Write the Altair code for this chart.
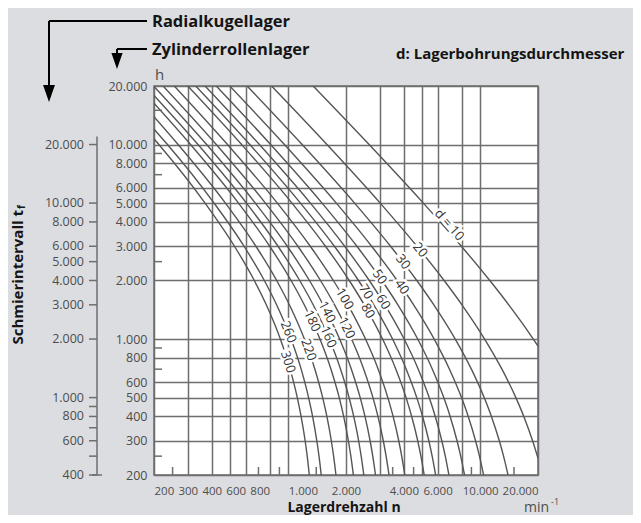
import altair as alt
import pandas as pd

# ---------------- data ----------------
# bearing bore diameter d (mm) of every curve
bore_d = [10, 20, 30, 40, 50, 60, 70, 80, 100, 120, 140, 160, 180, 220, 260, 300]

# speed n (min^-1) and lubrication interval t_f (h, Zylinderrollenlager scale) along each curve
n_d10 = [1349, 2639, 5055, 7977, 11220, 14082, 16627, 20000]
t_d10 = [20000, 10000, 5000, 3000, 2000, 1500, 1200, 920]
n_d20 = [819, 1592, 3013, 4686, 6488, 8033, 10544, 12977, 15336, 16870, 18744, 20000]
t_d20 = [20000, 10000, 5000, 3000, 2000, 1500, 1000, 700, 500, 400, 300, 244]
n_d30 = [611, 1182, 2217, 3413, 4675, 5734, 7415, 8997, 10489, 11438, 12575, 13232, 13962]
t_d30 = [20000, 10000, 5000, 3000, 2000, 1500, 1000, 700, 500, 400, 300, 250, 200]
n_d40 = [496, 956, 1781, 2720, 3695, 4502, 5760, 6919, 7992, 8664, 9459, 9913, 10414]
t_d40 = [20000, 10000, 5000, 3000, 2000, 1500, 1000, 700, 500, 400, 300, 250, 200]
n_d50 = [422, 810, 1501, 2279, 3075, 3726, 4726, 5634, 6461, 6973, 7573, 7914, 8286]
t_d50 = [20000, 10000, 5000, 3000, 2000, 1500, 1000, 700, 500, 400, 300, 250, 200]
n_d60 = [369, 708, 1305, 1969, 2643, 3188, 4016, 4757, 5425, 5834, 6310, 6579, 6871]
t_d60 = [20000, 10000, 5000, 3000, 2000, 1500, 1000, 700, 500, 400, 300, 250, 200]
n_d70 = [330, 631, 1158, 1740, 2323, 2791, 3495, 4118, 4673, 5011, 5401, 5620, 5858]
t_d70 = [20000, 10000, 5000, 3000, 2000, 1500, 1000, 700, 500, 400, 300, 250, 200]
n_d80 = [300, 572, 1046, 1564, 2079, 2489, 3101, 3637, 4111, 4397, 4727, 4911, 5109]
t_d80 = [20000, 10000, 5000, 3000, 2000, 1500, 1000, 700, 500, 400, 300, 250, 200]
n_d100 = [255, 483, 878, 1303, 1719, 2046, 2527, 2942, 3303, 3519, 3765, 3901, 4048]
t_d100 = [20000, 10000, 5000, 3000, 2000, 1500, 1000, 700, 500, 400, 300, 250, 200]
n_d120 = [223, 422, 761, 1123, 1473, 1744, 2138, 2474, 2763, 2934, 3128, 3235, 3350]
t_d120 = [20000, 10000, 5000, 3000, 2000, 1500, 1000, 700, 500, 400, 300, 250, 200]
n_d140 = [200, 376, 674, 989, 1290, 1521, 1853, 2133, 2371, 2512, 2670, 2757, 2849]
t_d140 = [19900, 10000, 5000, 3000, 2000, 1500, 1000, 700, 500, 400, 300, 250, 200]
n_d160 = [200, 339, 606, 885, 1148, 1349, 1636, 1874, 2076, 2194, 2327, 2399, 2476]
t_d160 = [17900, 10000, 5000, 3000, 2000, 1500, 1000, 700, 500, 400, 300, 250, 200]
n_d180 = [200, 310, 551, 801, 1035, 1212, 1463, 1670, 1844, 1945, 2058, 2120, 2185]
t_d180 = [16300, 10000, 5000, 3000, 2000, 1500, 1000, 700, 500, 400, 300, 250, 200]
n_d220 = [200, 267, 471, 679, 871, 1014, 1214, 1377, 1512, 1590, 1677, 1724, 1773]
t_d220 = [13900, 10000, 5000, 3000, 2000, 1500, 1000, 700, 500, 400, 300, 250, 200]
n_d260 = [200, 235, 411, 589, 751, 870, 1035, 1168, 1277, 1340, 1409, 1447, 1486]
t_d260 = [12000, 10000, 5000, 3000, 2000, 1500, 1000, 700, 500, 400, 300, 250, 200]
n_d300 = [200, 212, 369, 525, 666, 769, 910, 1023, 1115, 1167, 1225, 1256, 1288]
t_d300 = [10700, 10000, 5000, 3000, 2000, 1500, 1000, 700, 500, 400, 300, 250, 200]

# curve labels
label_text = ["d = 10", "20", "30", "40", "50", "60", "70", "80", "100", "120",
              "140", "160", "180", "220", "260", "300"]
label_n = [6900, 4862, 3958, 3902, 2987, 3123, 2539, 2598, 1967, 2011,
           1591, 1618, 1332, 1275, 1002, 997]
label_t = [3858, 2870, 2490, 1852, 2084, 1550, 1746, 1394, 1606, 1140,
           1377, 1025, 1238, 879, 1087, 762]
label_angle = [49, 51, 52, 55, 55, 58, 58, 60, 60, 64, 63, 67, 65, 70, 68, 73]

# axes
x_grid = [200, 300, 400, 500, 600, 800, 1000, 2000, 3000, 4000, 5000, 6000, 8000, 10000, 20000]
x_labeled = [200, 300, 400, 600, 800, 1000, 2000, 4000, 6000, 10000, 20000]
x_minor = [250, 700, 900, 1400, 3500, 4500, 9000, 15000]
y_grid = [200, 300, 400, 500, 600, 800, 1000, 2000, 3000, 4000, 5000, 6000, 8000, 10000, 20000]
y_minor = [250, 700, 900, 2500, 7000, 9000, 15000]
# outer axis: Radialkugellager (twice the Zylinderrollenlager value)
outer_labeled = [400, 600, 800, 1000, 2000, 3000, 4000, 5000, 6000, 8000, 10000, 20000]
outer_minor = [500, 700, 900]
outer_span = [400, 22000]

# ---------------- build tables ----------------
curve_n = [n_d10, n_d20, n_d30, n_d40, n_d50, n_d60, n_d70, n_d80, n_d100, n_d120,
           n_d140, n_d160, n_d180, n_d220, n_d260, n_d300]
curve_t = [t_d10, t_d20, t_d30, t_d40, t_d50, t_d60, t_d70, t_d80, t_d100, t_d120,
           t_d140, t_d160, t_d180, t_d220, t_d260, t_d300]
rows = []
for d, ns, ts in zip(bore_d, curve_n, curve_t):
    for i, (n, t) in enumerate(zip(ns, ts)):
        rows.append({"d": d, "n": n, "t": t, "i": i})
df_curves = pd.DataFrame(rows)
df_labels = pd.DataFrame({"txt": label_text, "n": label_n, "t": label_t, "ang": label_angle})


def de(v):
    return f"{v:,}".replace(",", ".")


df_outer = pd.DataFrame({"pos": [v / 2 for v in outer_labeled], "txt": [de(v) for v in outer_labeled]})
df_outer_minor = pd.DataFrame({"pos": [v / 2 for v in outer_minor]})
df_outer_span = pd.DataFrame({"pos": [outer_span[0] / 2], "pos2": [outer_span[1] / 2]})
df_outer_bottom = pd.DataFrame({"pos": [outer_span[0] / 2]})
df_xminor = pd.DataFrame({"n": x_minor})
df_yminor = pd.DataFrame({"t": y_minor})
one = pd.DataFrame({"k": [0]})

FONT = "Open Sans"
GRID = "#6e6e6e"
TXT = "#4d4d4d"
DARK = "#141414"
W, H = 384, 389

xs = alt.Scale(type="log", domain=[200, 20000], nice=False)
ys = alt.Scale(type="log", domain=[200, 20000], nice=False)

label_expr = ("indexof([" + ",".join(str(v) for v in x_labeled) + "], datum.value) >= 0 ? "
              "replace(format(datum.value, ','), ',', '.') : ''")

x_axis = alt.Axis(values=x_grid, grid=True, gridColor=GRID, gridWidth=1.5, domain=False,
                  ticks=False, labelExpr=label_expr, labelFont=FONT, labelFontSize=11.5,
                  labelColor=TXT, labelPadding=10, labelFlush=False, labelOverlap=False,
                  labelAlign={"condition": [
                      {"test": "datum.value == 200 || datum.value == 1000", "value": "left"},
                      {"test": "datum.value == 600 || datum.value == 800 || datum.value == 20000",
                       "value": "right"}], "value": "center"},
                  title=None)
y_axis = alt.Axis(values=y_grid, grid=True, gridColor=GRID, gridWidth=1.5, domain=False,
                  ticks=False, labelExpr="replace(format(datum.value, ','), ',', '.')",
                  labelFont=FONT, labelFontSize=12.5, labelColor=TXT, labelPadding=7,
                  labelFlush=False, labelOverlap=False, title=None)

curves = alt.Chart(df_curves).mark_line(color="#555555", strokeWidth=1.4,
                                        interpolate="monotone", clip=True).encode(
    x=alt.X("n:Q", scale=xs, axis=x_axis),
    y=alt.Y("t:Q", scale=ys, axis=y_axis),
    detail="d:N",
    order="i:Q",
)

halo = alt.Chart(df_labels).mark_text(font=FONT, fontSize=13, color="white", stroke="white",
                                      strokeWidth=5).encode(
    x=alt.X("n:Q", scale=xs), y=alt.Y("t:Q", scale=ys), text="txt:N",
    angle=alt.Angle("ang:Q", scale=None))
labels = alt.Chart(df_labels).mark_text(font=FONT, fontSize=13, color="#333333").encode(
    x=alt.X("n:Q", scale=xs), y=alt.Y("t:Q", scale=ys), text="txt:N",
    angle=alt.Angle("ang:Q", scale=None))

xminor = alt.Chart(df_xminor).mark_rule(color=GRID, strokeWidth=1.5).encode(
    x=alt.X("n:Q", scale=xs), y=alt.value(H), y2=alt.value(H - 8))
yminor = alt.Chart(df_yminor).mark_rule(color=GRID, strokeWidth=1.5).encode(
    y=alt.Y("t:Q", scale=ys), x=alt.value(0), x2=alt.value(8))

# outer (Radialkugellager) axis
o_line = alt.Chart(df_outer_span).mark_rule(color=GRID, strokeWidth=1.5).encode(
    x=alt.value(-57), y=alt.Y("pos:Q", scale=ys), y2="pos2:Q")
o_ticks = alt.Chart(df_outer).mark_rule(color=GRID, strokeWidth=1.5).encode(
    x=alt.value(-65), x2=alt.value(-57), y=alt.Y("pos:Q", scale=ys))
o_minor = alt.Chart(df_outer_minor).mark_rule(color=GRID, strokeWidth=1.5).encode(
    x=alt.value(-65), x2=alt.value(-57), y=alt.Y("pos:Q", scale=ys))
o_bottom = alt.Chart(df_outer_bottom).mark_rule(color=GRID, strokeWidth=1.5).encode(
    x=alt.value(-62), x2=alt.value(-52), y=alt.Y("pos:Q", scale=ys))
o_labels = alt.Chart(df_outer).mark_text(font=FONT, fontSize=12.5, color=TXT, align="right",
                                         baseline="middle").encode(
    x=alt.value(-70), y=alt.Y("pos:Q", scale=ys), text="txt:N")


def txt(s, x, y, size=13, weight="normal", color=TXT, align="left", angle=0, baseline="alphabetic"):
    return alt.Chart(one).mark_text(text=s, font=FONT, fontSize=size, fontWeight=weight,
                                    color=color, align=align, angle=angle,
                                    baseline=baseline).encode(x=alt.value(x), y=alt.value(y))


def rule(x, y, x2, y2, w=2):
    return alt.Chart(one).mark_rule(color="black", strokeWidth=w).encode(
        x=alt.value(x), y=alt.value(y), x2=alt.value(x2), y2=alt.value(y2))


TRI = "M-0.7,-1L0.7,-1L0,1Z"


def head(x, y, size):
    return alt.Chart(one).mark_point(shape=TRI, filled=True, size=size, color="black",
                                     opacity=1).encode(x=alt.value(x), y=alt.value(y))


annotations = [
    txt("h", 1, -6, size=15),
    txt("Radialkugellager", -2, -59, size=16.5, weight="bold", color=DARK),
    txt("Zylinderrollenlager", -2, -31, size=16.5, weight="bold", color=DARK),
    txt("d: Lagerbohrungsdurchmesser", 242, -27, size=15, weight="bold", color=DARK),
    txt("Lagerdrehzahl n", 190, 426, size=14, weight="bold", color=DARK, align="center"),
    txt("min", 370, 426, size=14),
    txt("-1", 397, 419, size=9),
    txt("Schmierintervall t", -136, 124, size=15, weight="bold", color=DARK,
        align="right", angle=270, baseline="middle"),
    txt("f", -132, 123, size=10, weight="bold", color=DARK, align="left", angle=270,
        baseline="middle"),
    rule(-105, -65, -7, -65),
    rule(-105, -65, -105, 0),
    head(-105, 7.5, 289),
    rule(-37, -37, -7, -37),
    rule(-37, -37, -37, -31),
    head(-37, -25, 256),
]

chart = alt.layer(
    curves, xminor, yminor, halo, labels,
    o_line, o_ticks, o_minor, o_bottom, o_labels,
    *annotations
).properties(
    width=W, height=H,
    autosize=alt.AutoSizeParams(type="none"),
    padding={"left": 146, "top": 78, "right": 95, "bottom": 40},
).configure(background="#dcdde0", font=FONT).configure_view(
    fill="white", stroke=GRID, strokeWidth=1.5)

chart.save("out.html", embed_options={"renderer": "svg", "actions": False})
